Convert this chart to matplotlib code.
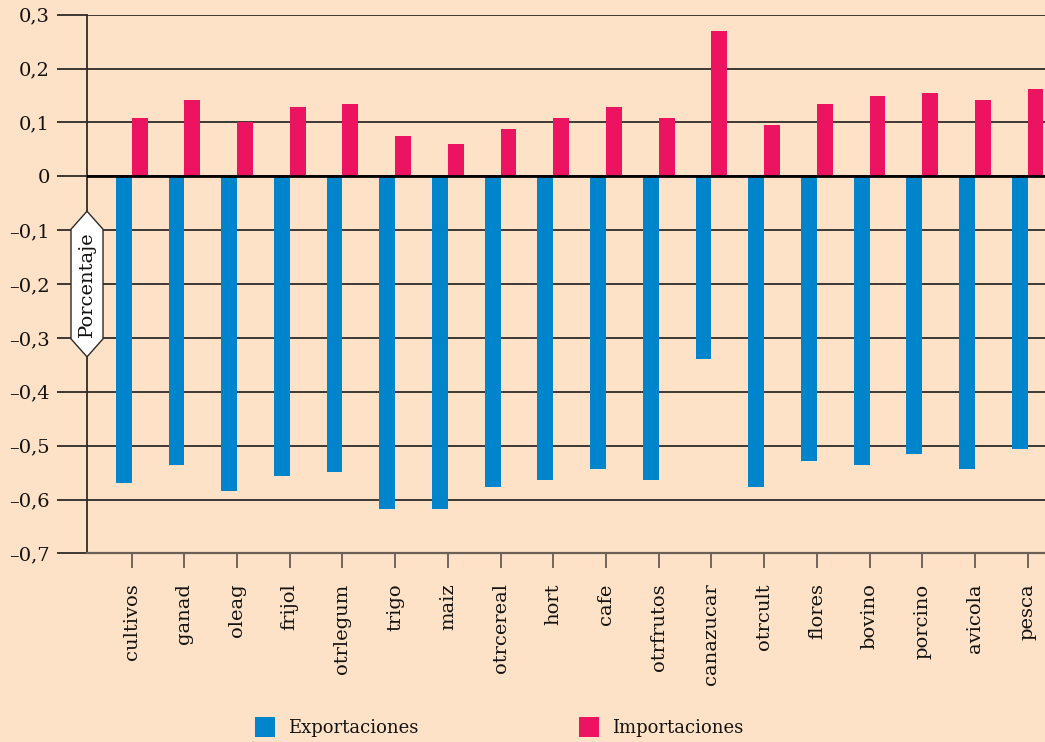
"""
Exportaciones vs importaciones por sector (porcentaje)
"""
import numpy as np
import matplotlib
matplotlib.use("Agg")
import matplotlib.pyplot as plt
from matplotlib.patches import Patch
from matplotlib.path import Path
from matplotlib import transforms

# data
sectores = ["cultivos", "ganad", "oleag", "frijol", "otrlegum", "trigo", "maiz",
            "otrcereal", "hort", "cafe", "otrfrutos", "canazucar", "otrcult",
            "flores", "bovino", "porcino", "avicola", "pesca"]
exportaciones = [-0.570, -0.536, -0.584, -0.556, -0.549, -0.618, -0.618,
                 -0.577, -0.564, -0.543, -0.564, -0.339, -0.576,
                 -0.528, -0.536, -0.515, -0.543, -0.507]
importaciones = [0.108, 0.142, 0.100, 0.129, 0.134, 0.075, 0.060,
                 0.088, 0.108, 0.128, 0.108, 0.270, 0.095,
                 0.134, 0.149, 0.155, 0.142, 0.162]
y_ticks = [0.3, 0.2, 0.1, 0, -0.1, -0.2, -0.3, -0.4, -0.5, -0.6, -0.7]
y_labels = ["0,3", "0,2", "0,1", "0", "–0,1", "–0,2", "–0,3", "–0,4",
            "–0,5", "–0,6", "–0,7"]

BG = "#fde2c8"
AZUL = "#0085cc"
ROSA = "#ec1461"
LINEA = "#2e2a27"
TEXTO = "#141210"

plt.rcParams["font.family"] = ["DejaVu Serif"]
plt.rcParams["text.color"] = TEXTO
plt.rcParams["xtick.labelcolor"] = TEXTO
plt.rcParams["ytick.labelcolor"] = TEXTO


def hexbox(x0, y0, width, height, mutation_size):
    # elongated hexagon, pointed at both text ends
    padx, pady, tip = 2, 7, 18
    x0 -= padx
    x1 = x0 + width + 2 * padx
    y0 -= pady
    y1 = y0 + height + 2 * pady
    ym = (y0 + y1) / 2
    verts = [(x0, y0), (x1, y0), (x1 + tip, ym), (x1, y1), (x0, y1),
             (x0 - tip, ym), (x0, y0)]
    return Path(verts, closed=True)


fig = plt.figure(figsize=(10.45, 7.42), dpi=100, facecolor=BG)
ax = fig.add_axes([87 / 1045, 1 - 553.4 / 742, 1 - 87 / 1045, (553.4 - 14.7) / 742])
ax.set_facecolor(BG)

x = np.arange(len(sectores))
w = 0.30
ax.bar(x - w / 2, exportaciones, w, color=AZUL, zorder=3)
ax.bar(x + w / 2, importaciones, w, color=ROSA, zorder=3)

ax.set_xlim(-0.848, 17.33)
ax.set_ylim(-0.7, 0.3)
ax.set_yticks(y_ticks)
ax.set_yticklabels(y_labels, fontsize=14)
ax.set_xticks(x)
ax.set_xticklabels(sectores, rotation=90, fontsize=14)

ax.set_axisbelow(True)
ax.grid(axis="y", color=LINEA, lw=1.3)
ax.axhline(0, color="black", lw=2, zorder=4)
ax.tick_params(axis="y", length=21.6, width=1.3, color=LINEA, pad=5)
ax.tick_params(axis="x", length=10.6, width=1.2, color="#5a5048", pad=11)

for s in ["top", "right"]:
    ax.spines[s].set_visible(False)
ax.spines["left"].set_color(LINEA)
ax.spines["left"].set_linewidth(1.3)
ax.spines["bottom"].set_color("#6b6058")
ax.spines["bottom"].set_linewidth(1.6)

# y-axis label sitting on the spine in a white hexagon
trans = transforms.blended_transform_factory(ax.transAxes, ax.transData)
ax.text(0, -0.2, "Porcentaje", transform=trans, rotation=90, fontsize=14,
        ha="center", va="center", zorder=6,
        bbox=dict(boxstyle=hexbox, facecolor="white", edgecolor=LINEA, lw=1))

handles = [Patch(facecolor=AZUL, label="Exportaciones"),
           Patch(facecolor=ROSA, label="Importaciones")]
fig.legend(handles=handles, loc="center left", ncol=2, frameon=False,
           bbox_to_anchor=(255 / 1045, 1 - 727 / 742), borderpad=0,
           borderaxespad=0, fontsize=13, handlelength=1.1, handleheight=1.3,
           handletextpad=0.72, columnspacing=8.9)

fig.savefig("out.png", dpi=100, facecolor=BG)
